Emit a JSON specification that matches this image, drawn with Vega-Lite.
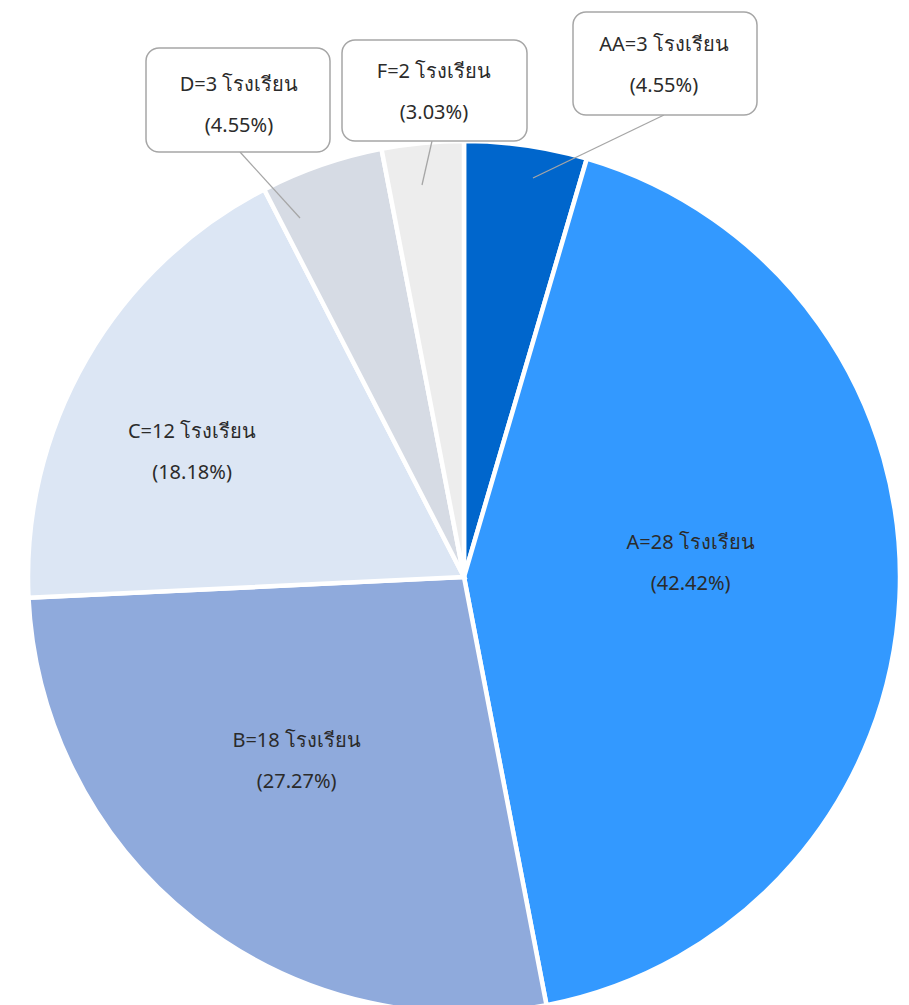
{
  "$schema": "https://vega.github.io/schema/vega-lite/v6.json",
  "autosize": "none",
  "width": 872,
  "height": 856,
  "padding": {"left": 28, "top": 149, "right": 9, "bottom": 0},
  "background": "#ffffff",
  "config": {
    "view": {"stroke": null},
    "text": {"font": "Noto Sans", "fontSize": 20, "lineHeight": 41, "lineBreak": "\n", "align": "center", "baseline": "middle", "fill": "#2b2b2b"}
  },
  "data": {
    "values": [
      {"grade": "AA", "count": 3, "order": 1, "label": "AA=3 โรงเรียน\n(4.55%)"},
      {"grade": "A", "count": 28, "order": 2, "label": "A=28 โรงเรียน\n(42.42%)"},
      {"grade": "B", "count": 18, "order": 3, "label": "B=18 โรงเรียน\n(27.27%)"},
      {"grade": "C", "count": 12, "order": 4, "label": "C=12 โรงเรียน\n(18.18%)"},
      {"grade": "D", "count": 3, "order": 5, "label": "D=3 โรงเรียน\n(4.55%)"},
      {"grade": "F", "count": 2, "order": 6, "label": "F=2 โรงเรียน\n(3.03%)"}
    ]
  },
  "layer": [
    {
      "mark": {"type": "arc", "outerRadius": 436, "stroke": "#ffffff", "strokeWidth": 4.5},
      "encoding": {
        "theta": {"field": "count", "type": "quantitative", "stack": true},
        "order": {"field": "order", "type": "quantitative"},
        "color": {
          "field": "grade", "type": "nominal", "legend": null,
          "scale": {"domain": ["AA", "A", "B", "C", "D", "F"], "range": ["#0066CC", "#3399FF", "#8FAADC", "#DCE6F4", "#D6DBE4", "#EDEDED"]}
        }
      }
    },
    {
      "mark": {"type": "text", "dy": -45},
      "encoding": {
        "theta": {"field": "count", "type": "quantitative", "stack": true},
        "order": {"field": "order", "type": "quantitative"},
        "radius": {"value": 227},
        "text": {"condition": {"test": "datum.grade === 'A'", "field": "label"}, "value": ""}
      }
    },
    {
      "mark": {"type": "text", "dx": -14, "dy": -31},
      "encoding": {
        "theta": {"field": "count", "type": "quantitative", "stack": true},
        "order": {"field": "order", "type": "quantitative"},
        "radius": {"value": 248},
        "text": {"condition": {"test": "datum.grade === 'B'", "field": "label"}, "value": ""}
      }
    },
    {
      "mark": {"type": "text", "dx": -13, "dy": 4},
      "encoding": {
        "theta": {"field": "count", "type": "quantitative", "stack": true},
        "order": {"field": "order", "type": "quantitative"},
        "radius": {"value": 299},
        "text": {"condition": {"test": "datum.grade === 'C'", "field": "label"}, "value": ""}
      }
    },
    {
      "transform": [{"filter": "datum.grade === 'D'"}],
      "layer": [
        {
          "mark": {"type": "rule", "stroke": "#A6A6A6", "strokeWidth": 1.3},
          "encoding": {"x": {"value": 212}, "y": {"value": 3}, "x2": {"value": 272}, "y2": {"value": 69}}
        },
        {
          "mark": {"type": "rect", "cornerRadius": 13, "fill": "#ffffff", "stroke": "#A6A6A6", "strokeWidth": 1.5},
          "encoding": {"x": {"value": 118}, "x2": {"value": 302}, "y": {"value": -101}, "y2": {"value": 3}}
        },
        {
          "mark": {"type": "text"},
          "encoding": {"x": {"value": 211}, "y": {"value": -64}, "text": {"field": "label"}}
        }
      ]
    },
    {
      "transform": [{"filter": "datum.grade === 'F'"}],
      "layer": [
        {
          "mark": {"type": "rule", "stroke": "#A6A6A6", "strokeWidth": 1.3},
          "encoding": {"x": {"value": 404}, "y": {"value": -8}, "x2": {"value": 394}, "y2": {"value": 36}}
        },
        {
          "mark": {"type": "rect", "cornerRadius": 13, "fill": "#ffffff", "stroke": "#A6A6A6", "strokeWidth": 1.5},
          "encoding": {"x": {"value": 314}, "x2": {"value": 499}, "y": {"value": -109}, "y2": {"value": -8}}
        },
        {
          "mark": {"type": "text"},
          "encoding": {"x": {"value": 406}, "y": {"value": -77}, "text": {"field": "label"}}
        }
      ]
    },
    {
      "transform": [{"filter": "datum.grade === 'AA'"}],
      "layer": [
        {
          "mark": {"type": "rule", "stroke": "#A6A6A6", "strokeWidth": 1.3},
          "encoding": {"x": {"value": 636}, "y": {"value": -34}, "x2": {"value": 505}, "y2": {"value": 29}}
        },
        {
          "mark": {"type": "rect", "cornerRadius": 13, "fill": "#ffffff", "stroke": "#A6A6A6", "strokeWidth": 1.5},
          "encoding": {"x": {"value": 545}, "x2": {"value": 729}, "y": {"value": -137}, "y2": {"value": -34}}
        },
        {
          "mark": {"type": "text"},
          "encoding": {"x": {"value": 636}, "y": {"value": -104}, "text": {"field": "label"}}
        }
      ]
    }
  ]
}
